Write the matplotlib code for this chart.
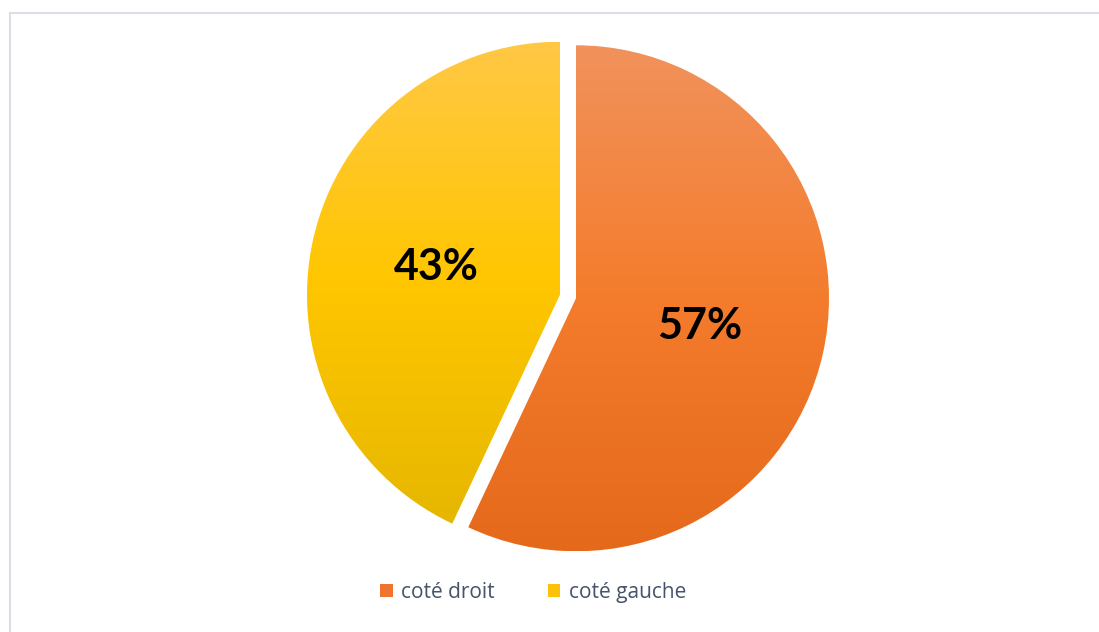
import matplotlib
matplotlib.use("Agg")
import matplotlib.pyplot as plt
import numpy as np
from matplotlib.colors import LinearSegmentedColormap
from matplotlib.patches import Rectangle, Patch

# Data
categories = ["coté droit", "coté gauche"]
shares = [57, 43]

# Vertical gradients (top -> middle -> bottom) for each slice
gradients = [
    ["#F1925C", "#F47C2C", "#E5691B"],
    ["#FFC845", "#FFC600", "#E6B700"],
]
legend_colors = ["#EF7430", "#FCC20A"]

W, H = 1099, 632
fig = plt.figure(figsize=(W / 100, H / 100), dpi=100)
ax = fig.add_axes([0, 0, 1, 1])

radius = 253
center = (568, H - 296.5)
gap = 8.2  # slice offset, in pixels
wedges, texts, autotexts = ax.pie(
    shares,
    startangle=90,
    counterclock=False,
    explode=[gap, gap],
    radius=radius,
    center=center,
    autopct="%1.0f%%",
    pctdistance=0.5,
    colors=["none", "none"],
    wedgeprops=dict(linewidth=0),
    textprops=dict(fontsize=31, fontweight="bold", color="black", family="Lato"),
    frame=True,
)
ax.set_xlim(0, W)
ax.set_ylim(0, H)
ax.set_aspect("equal")
ax.axis("off")

# Fill each wedge with its vertical gradient
for w, stops in zip(wedges, gradients):
    ext = w.get_path().get_extents()
    cmap = LinearSegmentedColormap.from_list("g", stops[::-1])
    grad = np.linspace(0, 1, 256).reshape(-1, 1)
    im = ax.imshow(grad, cmap=cmap, origin="lower", aspect="auto",
                   extent=[ext.x0, ext.x1, ext.y0, ext.y1], zorder=1,
                   interpolation="bilinear")
    im.set_clip_path(w)
for t in autotexts:
    t.set_zorder(3)
ax.set_xlim(0, W)
ax.set_ylim(0, H)

# Chart frame
fig.patches.append(Rectangle((9.5 / W, -0.05), 1.2, (H - 12.5) / H + 0.05,
                             transform=fig.transFigure, fill=False,
                             edgecolor="#DADFE5", linewidth=1.5))

handles = [Patch(facecolor=c, edgecolor="none") for c in legend_colors]
leg = ax.legend(handles, categories, loc="center", bbox_to_anchor=(533 / W, 1 - 592.5 / H),
                bbox_transform=fig.transFigure, ncol=2, frameon=False,
                prop=dict(family="Open Sans", size=15), handlelength=0.6,
                handleheight=0.6, handletextpad=0.4, columnspacing=2.55)
for t in leg.get_texts():
    t.set_color("#44546A")

fig.savefig("out.png", dpi=100, facecolor="white")
